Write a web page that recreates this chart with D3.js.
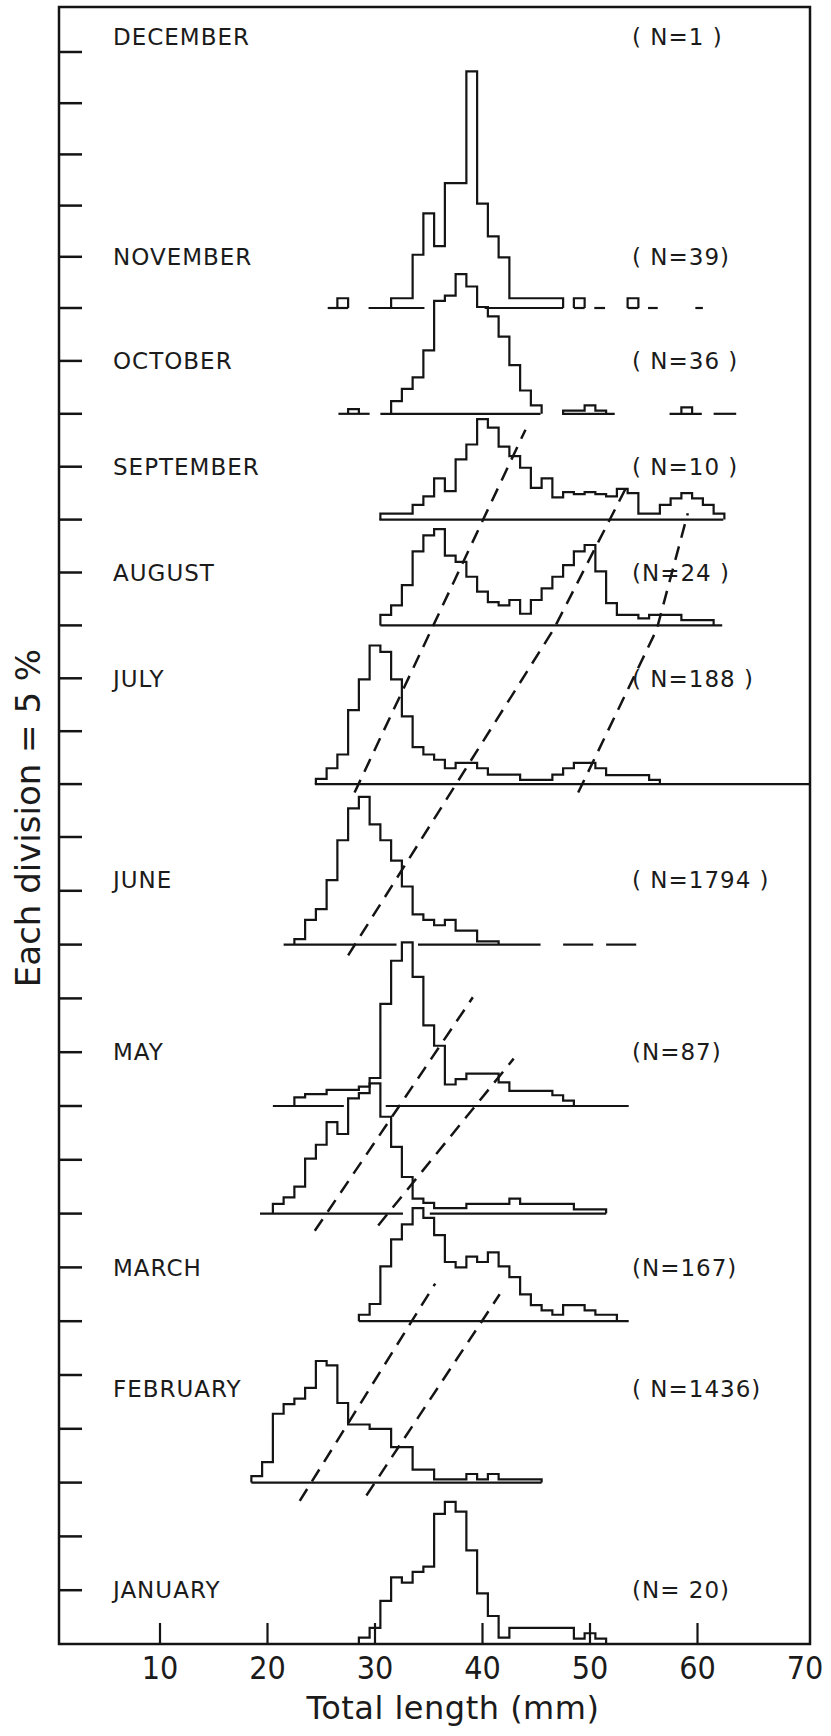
<!DOCTYPE html>
<html>
<head>
<meta charset="utf-8">
<script src="https://cdn.jsdelivr.net/npm/d3@7"></script>
<style>
  html, body { margin: 0; padding: 0; background: #fff; }
  svg { display: block; }
  text { font-family: "DejaVu Sans", "Liberation Sans", sans-serif; fill: #1b1b1b; }
</style>
</head>
<body>
<svg id="chart" width="831" height="1736"></svg>
<script>
// Monthly length-frequency distributions (percent of catch per 1-mm class),
// each month drawn on its own zero line, stacked up the page.

const months = ["JANUARY", "FEBRUARY", "MARCH", "APRIL", "MAY", "JUNE",
                "JULY", "AUGUST", "SEPTEMBER", "OCTOBER", "NOVEMBER", "DECEMBER"];
// April is drawn without a caption
const captions = ["JANUARY", "FEBRUARY", "MARCH", null, "MAY", "JUNE",
                  "JULY", "AUGUST", "SEPTEMBER", "OCTOBER", "NOVEMBER", "DECEMBER"];
const sampleLabels = ["(N= 20)", "( N=1436)", "(N=167)", null, "(N=87)", "( N=1794 )",
                      "( N=188 )", "(N=24 )", "( N=10 )", "( N=36 )", "( N=39)", "( N=1 )"];

// percent level of each month's zero line, and of its caption
const zeroLevel    = [0, 15, 30, 40, 50, 65, 80, 95, 105, 115, 125, null];
const captionLevel = [5, 23.7, 35, null, 55, 71, 90, 100, 110, 120, 130, 151.5];

// centre (mm) of the first 1-mm length class in each series
const firstClass = [29, 19, 29, 21, 23, 23, 25, 31, 31, 28, 27, null];

const janPct = [0.6, 1.5, 4.0, 6.2, 5.7, 6.7, 7.2, 12.1, 13.2, 12.3, 8.7, 4.7, 2.6, 0.6,
                1.5, 1.5, 1.5, 1.5, 1.5, 1.5, 0.5, 1.0, 0.5];
const febPct = [0.6, 1.9, 6.4, 7.3, 7.8, 8.8, 11.3, 10.9, 7.4, 5.4, 5.4, 5.0, 5.0, 3.3, 3.3,
                1.2, 1.2, 0.3, 0.3, 0.3, 0.8, 0.3, 0.8, 0.3, 0.3, 0.3, 0.3];
const marPct = [0.6, 1.6, 5.1, 7.6, 9.0, 10.5, 9.6, 8.0, 5.5, 5.0, 6.0, 5.5, 6.4, 5.1, 4.1,
                2.5, 1.5, 1.0, 0.6, 1.5, 1.5, 1.0, 0.6, 0.6];
const aprPct = [0.9, 1.5, 2.5, 5.1, 6.4, 8.5, 7.4, 10.7, 11.2, 12.1, 9.0, 6.2, 3.4, 1.4, 1.0,
                0.5, 0.5, 0.5, 0.9, 0.9, 0.9, 0.9, 1.4, 0.9, 0.9, 0.9, 0.9, 0.9, 0.4, 0.4, 0.4];
const mayPct = [0.8, 1.1, 1.1, 1.5, 1.5, 1.5, 1.8, 2.6, 9.5, 13.5, 15.2, 12.0, 7.5, 5.6, 2.0,
                2.5, 3.0, 3.0, 3.0, 2.2, 1.4, 1.4, 1.4, 1.4, 1.0, 0.5];
const junPct = [0.5, 2.3, 3.3, 6.0, 9.7, 12.7, 13.8, 11.2, 9.7, 7.8, 5.4, 2.8, 2.3, 1.8, 2.3,
                1.3, 1.3, 0.3, 0.3];
const julPct = [0.5, 1.5, 2.8, 7.0, 9.9, 13.1, 12.5, 9.9, 6.4, 3.5, 2.8, 2.3, 1.5, 2.0, 2.0,
                1.5, 0.9, 0.9, 0.9, 0.4, 0.4, 0.4, 0.9, 1.5, 2.0, 2.0, 1.5, 0.85, 0.85, 0.85,
                0.85, 0.4];
const augPct = [1.0, 1.9, 3.8, 7.0, 8.5, 9.1, 6.6, 6.0, 4.6, 3.2, 2.2, 1.9, 2.4, 1.1, 2.4,
                3.5, 4.6, 5.7, 7.0, 7.6, 5.1, 2.1, 1.0, 1.0, 0.66, 1.0, 1.0, 1.0, 0.5, 0.5, 0.5];
const sepPct = [0.57, 0.57, 0.57, 1.4, 2.2, 3.9, 2.7, 5.7, 7.1, 9.5, 8.7, 6.9, 6.0, 4.9, 3.0,
                3.9, 2.1, 2.6, 2.4, 2.6, 2.4, 2.2, 2.9, 2.5, 0.57, 0.57, 1.4, 2.0, 2.5, 2.0,
                1.4, 0.57];
const octPct = [0.45, 0, 0, 0, 1.2, 2.35, 3.45, 6.0, 10.7, 11.2, 13.3, 12.1, 10.1, 9.2, 7.3,
                4.6, 2.2, 0.8, 0, 0, 0.3, 0.3, 0.8, 0.3, 0, 0, 0, 0, 0, 0, 0, 0.6];
const novPct = [0.95, 0, 0, 0, 0, 0.95, 0.95, 5.2, 9.25, 6.05, 12.2, 12.2, 23.1, 10.2, 7.0,
                4.95, 0.95, 0.95, 0.95, 0.95, 0.95, 0, 0.95, 0, 0, 0, 0, 0.95];
const decPct = [];

const pctByMonth = [janPct, febPct, marPct, aprPct, mayPct, junPct,
                    julPct, augPct, sepPct, octPct, novPct, decPct];

// stretches (mm) of each month's drawn zero line
const zeroLines = [
  [],
  [[18.5, 45.5]],
  [[28.5, 53.6]],
  [[19.3, 32.6], [35.1, 51.5]],
  [[20.5, 27.1], [31.0, 53.6]],
  [[21.5, 32.0], [34.0, 45.4], [47.5, 50.3], [51.5, 54.3]],
  [[24.4, 70.4]],
  [[30.5, 62.3]],
  [[30.4, 62.4]],
  [[26.6, 29.5], [30.5, 45.4], [47.4, 52.3], [57.4, 60.4], [61.5, 63.6]],
  [[25.6, 27.5], [29.4, 34.6], [40.2, 47.5], [48.5, 49.5], [50.4, 51.4], [53.5, 54.5],
   [55.4, 56.3], [59.8, 60.5]],
  []
];

// dashed modal-progression tracks, [length mm, percent level]
const tracks = [
  [[23.0, 13.3], [35.6, 33.5]],
  [[29.2, 13.8], [41.6, 32.5]],
  [[24.4, 38.4], [39.1, 60.1]],
  [[30.3, 38.9], [42.9, 54.4]],
  [[27.5, 64.0], [46.6, 94.6], [53.4, 108.1]],
  [[28.1, 79.2], [44.0, 113.5]],
  [[48.9, 79.2], [56.2, 94.6], [59.1, 105.6]]
];

const lengthTicks = [10, 20, 30, 40, 50, 60, 70];
const divisionStep = 5;      // percent per division
const divisionMax = 150;
const xTitle = "Total length (mm)";
const yTitle = "Each division = 5 %";

// ---- layout ----
const svg = d3.select("#chart");
const ink = "#141414";
const frame = { left: 59, right: 810, top: 7 };

const x = d3.scaleLinear().domain([0, 70]).range([52.5, 805]);
const y = d3.scaleLinear().domain([0, 75, 125, 150]).range([1644, 837, 308, 52]);
const path = d3.line().x(d => x(d[0])).y(d => y(d[1]));

// frame
svg.append("rect")
  .attr("x", frame.left).attr("y", frame.top)
  .attr("width", frame.right - frame.left).attr("height", y(0) - frame.top)
  .attr("fill", "none").attr("stroke", ink).attr("stroke-width", 2.5);

// division ticks on the left side (pointing inward)
const divisions = d3.range(divisionStep, divisionMax + 0.1, divisionStep);
svg.append("g").selectAll("line").data(divisions).join("line")
  .attr("x1", frame.left).attr("x2", frame.left + 23)
  .attr("y1", d => y(d)).attr("y2", d => y(d))
  .attr("stroke", ink).attr("stroke-width", 2.5);

// length axis: inward ticks and labels
svg.append("g").selectAll("line").data(lengthTicks.filter(t => t < 70)).join("line")
  .attr("x1", d => x(d)).attr("x2", d => x(d))
  .attr("y1", y(0)).attr("y2", y(0) - 21)
  .attr("stroke", ink).attr("stroke-width", 2.2);

svg.append("g").selectAll("text").data(lengthTicks).join("text")
  .attr("x", d => x(d)).attr("y", 1679)
  .attr("text-anchor", "middle")
  .style("font-family", '"DejaVu Sans Condensed", "DejaVu Sans", sans-serif')
  .style("font-stretch", "condensed")
  .attr("font-size", 32)
  .text(d => d);

svg.append("text")
  .attr("x", 453).attr("y", 1719)
  .attr("text-anchor", "middle")
  .attr("font-size", 32)
  .attr("letter-spacing", 0.5)
  .text(xTitle);

svg.append("text")
  .attr("transform", "translate(40,818) rotate(-90)")
  .attr("text-anchor", "middle")
  .attr("font-size", 34)
  .text(yTitle);

// zero lines
const zg = svg.append("g").attr("stroke", ink).attr("stroke-width", 2.2);
months.forEach((m, i) => {
  zeroLines[i].forEach(seg => {
    zg.append("line")
      .attr("x1", x(seg[0])).attr("x2", Math.min(x(seg[1]), frame.right))
      .attr("y1", y(zeroLevel[i])).attr("y2", y(zeroLevel[i]));
  });
});

// histograms: one step outline per run of non-empty length classes
const hg = svg.append("g").attr("fill", "none").attr("stroke", ink)
  .attr("stroke-width", 2.2).attr("stroke-linejoin", "miter");
months.forEach((m, i) => {
  const vals = pctByMonth[i];
  const base = zeroLevel[i];
  if (!vals.length) return;
  const runs = [];
  let run = [];
  vals.forEach((v, k) => {
    if (v > 0) run.push([firstClass[i] + k, v]);
    else if (run.length) { runs.push(run); run = []; }
  });
  if (run.length) runs.push(run);
  runs.forEach(r => {
    const pts = [[r[0][0] - 0.5, base]];
    r.forEach(([c, v]) => { pts.push([c - 0.5, base + v], [c + 0.5, base + v]); });
    pts.push([r[r.length - 1][0] + 0.5, base]);
    hg.append("path").attr("d", path(pts));
  });
});

// dashed tracks
svg.append("g").selectAll("path").data(tracks).join("path")
  .attr("d", d => path(d))
  .attr("fill", "none").attr("stroke", ink).attr("stroke-width", 2.5)
  .attr("stroke-dasharray", "14,9");

// month captions and sample sizes
const lg = svg.append("g").attr("font-size", 23).attr("letter-spacing", 1);
months.forEach((m, i) => {
  if (captionLevel[i] == null) return;
  const cy = y(captionLevel[i]);
  if (captions[i]) {
    lg.append("text").attr("x", 113).attr("y", cy).attr("dy", "0.36em").text(captions[i]);
  }
  if (sampleLabels[i]) {
    lg.append("text").attr("x", 632).attr("y", cy).attr("dy", "0.36em").text(sampleLabels[i]);
  }
});
</script>
</body>
</html>
